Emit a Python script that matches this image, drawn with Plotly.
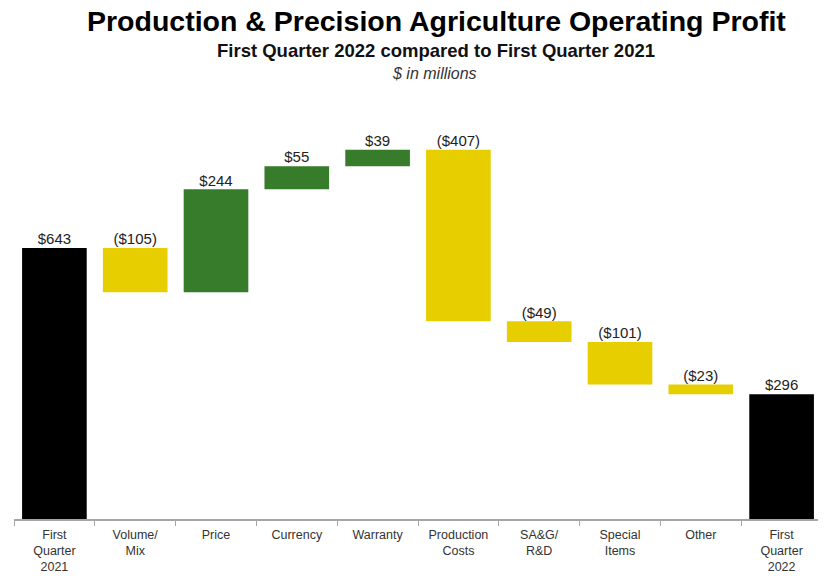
import plotly.graph_objects as go

categories = ["First<br>Quarter<br>2021", "Volume/<br>Mix", "Price", "Currency", "Warranty",
              "Production<br>Costs", "SA&G/<br>R&D", "Special<br>Items", "Other", "First<br>Quarter<br>2022"]
values = [643, -105, 244, 55, 39, -407, -49, -101, -23, 296]
measures = ["total", "relative", "relative", "relative", "relative",
            "relative", "relative", "relative", "relative", "total"]
labels = ["$643", "($105)", "$244", "$55", "$39", "($407)", "($49)", "($101)", "($23)", "$296"]

BLACK = "#000000"
GREEN = "#367C2B"
YELLOW = "#E6CE00"

bases, heights, tops, colors = [], [], [], []
level = 0
for v, m in zip(values, measures):
    if m == "total":
        bases.append(0)
        heights.append(v)
        tops.append(v)
        colors.append(BLACK)
        level = v
    else:
        start, end = level, level + v
        bases.append(min(start, end))
        heights.append(abs(v))
        tops.append(max(start, end))
        colors.append(GREEN if v > 0 else YELLOW)
        level = end

fig = go.Figure()
fig.add_trace(go.Bar(x=categories, y=heights, base=bases, marker_color=colors,
                     marker_line_width=0, width=0.8, hoverinfo="skip"))
fig.add_trace(go.Scatter(x=categories, y=tops, mode="text", text=labels,
                         textposition="top center",
                         textfont=dict(family="Liberation Sans, Arial", size=15, color="#222222"),
                         hoverinfo="skip"))

# page body has an 8px margin, so the figure is drawn 8px in from the top-left
OFF = 8
W, H = 818, 568
ml, mr, mt, mb = 6, 4, 92, 57
ph = H - mt - mb
pw = W - ml - mr

def px_x(x):
    return (x - OFF - ml) / pw

def px_y(y):
    return (H - mb - (y - OFF)) / ph

fig.update_layout(
    width=W, height=H,
    margin=dict(l=ml, r=mr, t=mt, b=mb, autoexpand=False),
    plot_bgcolor="white", paper_bgcolor="white",
    showlegend=False,
    bargap=0.2,
    font=dict(family="Liberation Sans, Arial", color="#333333"),
    annotations=[
        dict(text="<b>Production & Precision Agriculture Operating Profit</b>",
             x=px_x(436), y=px_y(21), xref="paper", yref="paper", showarrow=False,
             xanchor="center", yanchor="middle", borderpad=0,
             font=dict(size=28.5, color="#000000")),
        dict(text="<b>First Quarter 2022 compared to First Quarter 2021</b>",
             x=px_x(436), y=px_y(51), xref="paper", yref="paper", showarrow=False,
             xanchor="center", yanchor="middle",
             font=dict(size=18.5, color="#111111")),
        dict(text="<i>$ in millions</i>",
             x=px_x(434), y=px_y(73), xref="paper", yref="paper", showarrow=False,
             xanchor="center", yanchor="middle",
             font=dict(size=16, color="#333333")),
    ],
)
fig.update_xaxes(showline=True, linecolor="#A6A6A6", linewidth=1.5, automargin=False,
                 ticks="outside", tickson="boundaries", ticklen=5, tickcolor="#A6A6A6",
                 ticklabelstandoff=3,
                 tickfont=dict(size=12.5, color="#333333"), showgrid=False)
fig.update_yaxes(range=[0, 994], visible=False, showgrid=False, automargin=False)

fig.write_html("out.html")
